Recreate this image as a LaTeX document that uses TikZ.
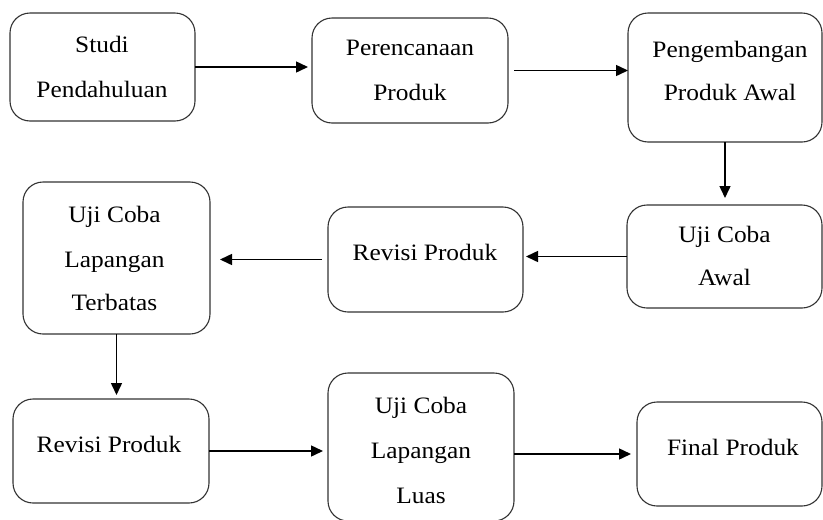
\documentclass[tikz,border=0pt]{standalone}
\usepackage{fontspec}
\setmainfont{Liberation Serif}[FakeStretch=1.08]
\usetikzlibrary{arrows.meta}
\begin{document}
\begin{tikzpicture}[x=1pt,y=-1pt,
  box/.style={draw=black!80, line width=1.1pt, rounded corners=20pt, inner sep=0pt, outer sep=0pt},
  lbl/.style={anchor=base, inner sep=0pt, font=\fontsize{23.5}{45}\selectfont},
  arr/.style={draw=black, line width=1.5pt, -{Triangle[length=12pt,width=11pt]}}]
\useasboundingbox (0,0) rectangle (823,520);
% boxes
\node[box, minimum width=185pt, minimum height=108pt] (b1) at (102.5,67) {};
\node[box, minimum width=196pt, minimum height=105pt] (b2) at (410,70.5) {};
\node[box, minimum width=194pt, minimum height=129pt] (b3) at (725,77.5) {};
\node[box, minimum width=195pt, minimum height=103pt] (b4) at (724.5,256.5) {};
\node[box, minimum width=195pt, minimum height=105pt] (b5) at (425.5,259.5) {};
\node[box, minimum width=187pt, minimum height=152pt] (b6) at (116.5,258) {};
\node[box, minimum width=196pt, minimum height=104pt] (b7) at (111,451) {};
\node[box, minimum width=186pt, minimum height=148pt] (b8) at (421,447) {};
\node[box, minimum width=185pt, minimum height=104pt] (b9) at (729.5,454) {};
% labels
\node[lbl] (t1a) at (102,52) {Studi};
\node[lbl] (t1b) at (102,97) {Pendahuluan};
\node[lbl] (t2a) at (410,55) {Perencanaan};
\node[lbl] (t2b) at (410,100) {Produk};
\node[lbl] (t3a) at (730,57) {Pengembangan};
\node[lbl] (t3b) at (730,100) {Produk Awal};
\node[lbl] (t4a) at (724.5,242) {Uji Coba};
\node[lbl] (t4b) at (724.5,285) {Awal};
\node[lbl] (t5a) at (425,260) {Revisi Produk};
\node[lbl] (t6a) at (114.5,222) {Uji Coba};
\node[lbl] (t6b) at (114.5,267) {Lapangan};
\node[lbl] (t6c) at (114.5,310) {Terbatas};
\node[lbl] (t7a) at (109,452) {Revisi Produk};
\node[lbl] (t8a) at (421,413) {Uji Coba};
\node[lbl] (t8b) at (421,458) {Lapangan};
\node[lbl] (t8c) at (421,503) {Luas};
\node[lbl] (t9a) at (733,455) {Final Produk};
% connectors
\draw[arr, shorten >=4pt] (b1.east) -- (b1.east -| b2.west);
\draw[arr, shorten <=6pt] (b2.east) -- (b2.east -| b3.west);
\draw[arr, shorten >=7pt] (b3.south) -- (b3.south |- b4.north);
\draw[arr, shorten >=3pt] (b4.west) -- (b4.west -| b5.east);
\draw[arr, shorten <=6pt, shorten >=10pt] (b5.west) -- (b5.west -| b6.east);
\draw[arr, shorten >=4pt] (b6.south) -- (b6.south |- b7.north);
\draw[arr, shorten >=5pt] (b7.east) -- (b7.east -| b8.west);
\draw[arr, shorten >=6pt] (b9.west -| b8.east) -- (b9.west);
\end{tikzpicture}
\end{document}
